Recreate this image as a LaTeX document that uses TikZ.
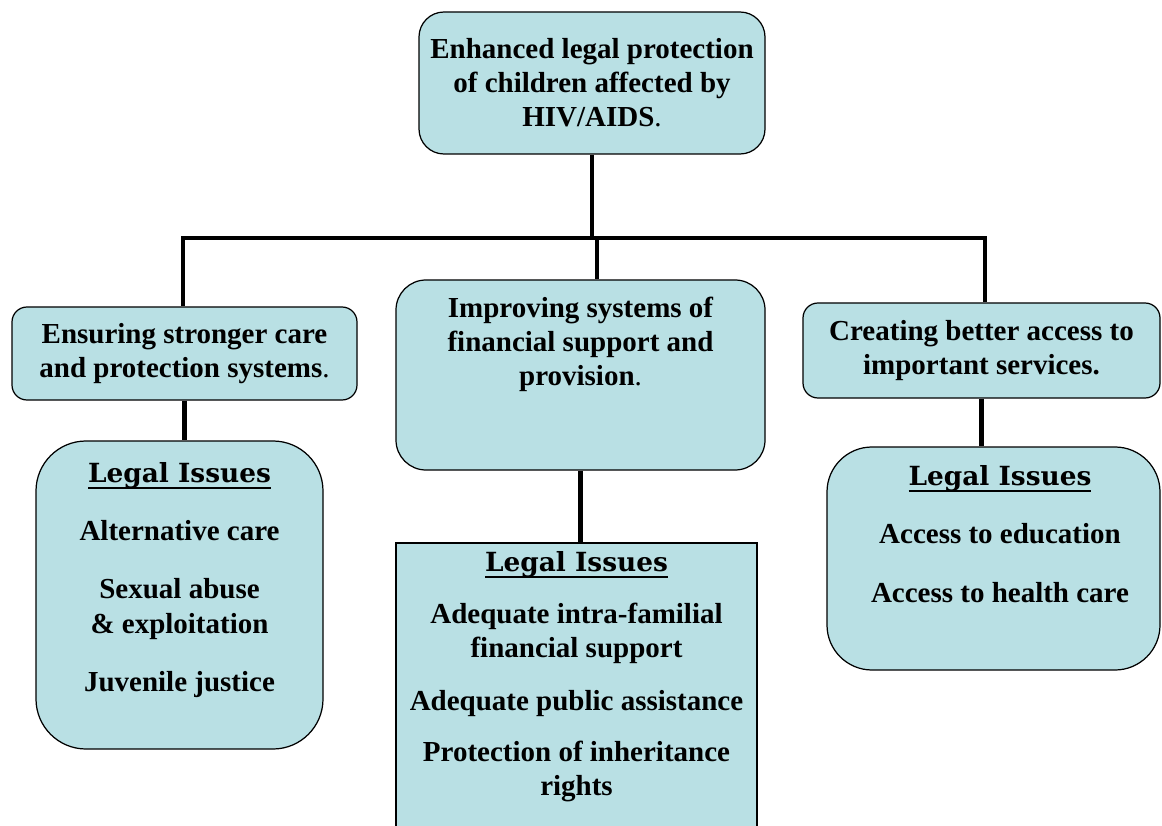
\documentclass[tikz,border=0pt]{standalone}
\usepackage{fontspec}
\setmainfont{Liberation Serif}
\newfontfamily\issuefont{DejaVu Serif}
\usepackage{tikz}
\usetikzlibrary{positioning}

\definecolor{boxfill}{RGB}{185,224,228}
\newsavebox{\headbox}
\newcommand{\issuehead}{{\issuefont\fontsize{15}{19.4}\selectfont\sbox{\headbox}{Legal Issues}\rlap{\rule[-3.6pt]{\wd\headbox}{1.1pt}}\usebox{\headbox}}}

\begin{document}
\begin{tikzpicture}[
    node distance=1cm,
    every node/.style={align=center, font=\fontsize{16.5}{19.4}\selectfont\bfseries},
    box/.style={rectangle, draw, fill=boxfill, line width=0.7pt},
    issuetext/.style={inner sep=0pt},
    link/.style={line width=2.6pt}
]
\useasboundingbox (0,0) rectangle (23.24,-16.52);
\clip (0,0) rectangle (23.24,-16.52);

\node[box, rounded corners=0.5cm, minimum width=6.92cm, minimum height=2.84cm] (goal) at (11.84,-1.66) {Enhanced legal protection\\of children affected by\\HIV/AIDS\textmd{.}};

% first level
\node[box, rounded corners=0.3cm, minimum width=6.9cm, minimum height=1.86cm] (careL) at (3.69,-7.07) {Ensuring stronger care\\and protection systems\textmd{.}};
\node[box, rounded corners=0.6cm, minimum width=7.38cm, minimum height=3.8cm] (financeM) at (11.61,-7.5) {};
\node[issuetext, below=0.34cm of financeM.north] (financeMtext) {Improving systems of\\financial support and\\provision\textmd{.}};
\node[box, rounded corners=0.3cm, minimum width=7.14cm, minimum height=1.9cm] (helpR) at (19.63,-7.01) {Creating better access to\\important services.};

% legal issues
\node[box, rounded corners=1cm, minimum width=5.74cm, minimum height=6.16cm] (legalL) at (3.59,-11.9) {};
\node[issuetext, below=0.44cm of legalL.north] (legalLtext) {\issuehead\\[0.48cm]Alternative care\\[0.48cm]Sexual abuse\\\& exploitation\\[0.48cm]Juvenile justice};
\node[box, minimum width=7.22cm, minimum height=6.04cm] (legalM) at (11.53,-13.88) {};
\node[issuetext, below=0.18cm of legalM.north] (legalMtext) {\issuehead\\[0.36cm]Adequate intra-familial\\financial support\\[0.36cm]Adequate public assistance\\[0.34cm]Protection of inheritance\\rights};
\node[box, rounded corners=0.9cm, minimum width=6.66cm, minimum height=4.46cm] (legalR) at (19.87,-11.17) {};
\node[issuetext, below=0.38cm of legalR.north, xshift=0.13cm] (legalRtext) {\issuehead\\[0.48cm]Access to education\\[0.5cm]Access to health care};

% connectors
\coordinate (busL) at (3.66,-4.76);
\coordinate (busM) at (11.94,-4.76);
\coordinate (busR) at (19.70,-4.76);
\draw[link] (goal.south) -- (goal.south |- busM);
\draw[link] (busL |- careL.north) -- (busL) -- (busR) -- (busR |- helpR.north);
\draw[link] (busM) -- (busM |- financeM.north);
\draw[link] (careL.south) -- (careL.south |- legalL.north);
\draw[link] (financeM.south) -- (financeM.south |- legalM.north);
\draw[link] (helpR.south) -- (helpR.south |- legalR.north);

\end{tikzpicture}
\end{document}
